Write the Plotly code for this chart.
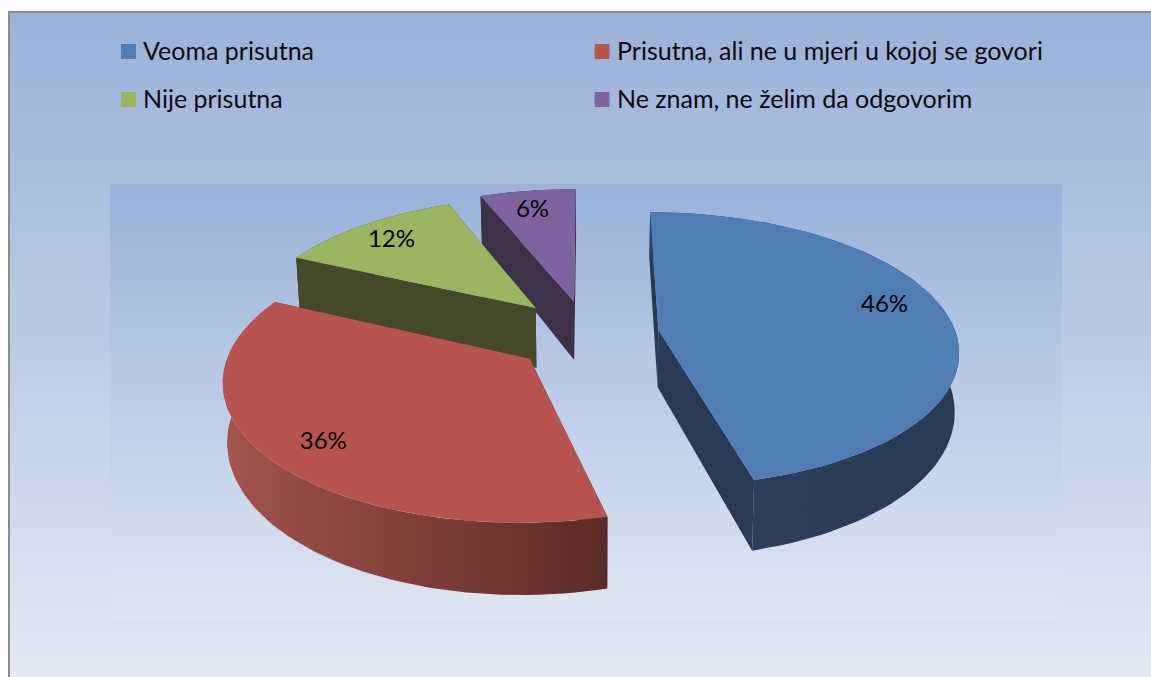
import numpy as np
import plotly.graph_objects as go

# ---- data ----
categories = ["Veoma prisutna", "Prisutna, ali ne u mjeri u kojoj se govori",
              "Nije prisutna", "Ne znam, ne želim da odgovorim"]
shares = [46, 36, 12, 6]

# ---- style ----
top_colors = ["#4f7db4", "#b85450", "#9bb660", "#7f63a0"]
face_colors = ["#2a3a54", "#5a2b26", "#45492c", "#3e3148"]
wall_scale = [
    [[0, "#2d4060"], [1, "#2a3a54"]],
    [[0, "#a5534d"], [0.5, "#7f3f39"], [1, "#5a2b26"]],
    [[0, "#45492c"], [1, "#45492c"]],
    [[0, "#3e3148"], [1, "#3e3148"]],
]
# exploded slice apex position on the pie plane, radius units
apex = [(0.228, 0.0), (-0.195, -0.205), (-0.185, 0.165), (-0.055, 0.216)]
radius = [0.988, 0.98, 0.965, 1.0]
depth = [57.0, 55.0, 62.0, 61.0]
label_shift = [-6, -2.5, -1, -1]
label_r = [0.8, 0.81, 0.78, 0.8]
CX, CY, AX, AY, K = 590.0, 330.0, 300.0, 135.7, 0.14
SQUEEZE = 0.012
FONT = "Lato"
FS_LEG, FS_LAB = 25, 24


def proj(X, Y, low=0.0):
    w = 1 + K * Y
    sx = CX + AX * X / w
    sy = CY - AY * Y / w
    if low:
        sy = sy + low / w ** 1.5
        sx = CX + (sx - CX) * (1 - SQUEEZE)
    return sx, sy


fig = go.Figure()


def poly(x, y, color=None, grad=None):
    kw = dict(x=list(x), y=list(y), mode="lines", fill="toself", line=dict(width=0),
              hoverinfo="skip", showlegend=False)
    if grad:
        kw["fillgradient"] = grad
    else:
        kw["fillcolor"] = color
    fig.add_trace(go.Scatter(**kw))


# backgrounds
poly([9, 1151, 1151, 9], [12, 12, 677, 677],
     grad=dict(type="vertical", start=12, stop=677,
               colorscale=[[0, "#9bb1da"], [0.5, "#bccce6"], [1, "#e4e9f4"]]))
poly([110, 1062, 1062, 110], [184, 184, 620, 620],
     grad=dict(type="vertical", start=184, stop=620,
               colorscale=[[0, "#9bb1da"], [0.5, "#bccde7"], [1, "#e0e6f3"]]))
fig.add_trace(go.Scatter(x=[9, 9, 1151], y=[677, 12, 12], mode="lines",
                         line=dict(color="#8c8c8c", width=2), hoverinfo="skip", showlegend=False))

# slice angles, clockwise from 12 o'clock
edges = np.cumsum([0] + shares) / sum(shares) * 360.0
for i in [3, 2, 1, 0]:
    a0, a1 = edges[i], edges[i + 1]
    ox, oy = apex[i]
    R = radius[i]
    D = depth[i]
    t = np.radians(np.linspace(a0, a1, 90))
    X = ox + R * np.sin(t)
    Y = oy + R * np.cos(t)
    ax_t, ay_t = proj(ox, oy)
    ax_b, ay_b = proj(ox, oy, D)
    # two radial faces
    for th in (a0, a1):
        r = np.radians(th)
        px, py = ox + R * np.sin(r), oy + R * np.cos(r)
        tx, ty = proj(px, py)
        bx, by = proj(px, py, D)
        poly([ax_t, tx, bx, ax_b], [ay_t, ty, by, ay_b], color=face_colors[i])
    # outer wall
    sx, sy = proj(X, Y)
    bx, by = proj(X, Y, D)
    poly(np.r_[sx, bx[::-1]], np.r_[sy, by[::-1]],
         grad=dict(type="horizontal", colorscale=wall_scale[i]))
    # top
    poly(np.r_[ax_t, sx], np.r_[ay_t, sy], color=top_colors[i])

# percent labels
lx, ly, lt = [], [], []
for i, v in enumerate(shares):
    th = np.radians((edges[i] + edges[i + 1]) / 2 + label_shift[i])
    x, y = proj(apex[i][0] + label_r[i] * np.sin(th), apex[i][1] + label_r[i] * np.cos(th))
    lx.append(x); ly.append(y); lt.append(f"{v}%")
fig.add_trace(go.Scatter(x=lx, y=ly, text=lt, mode="text", textposition="middle center",
                         textfont=dict(family=FONT, size=FS_LAB, color="#000000"),
                         hoverinfo="skip", showlegend=False))

# legend
leg_sw_x = [128.5, 602, 128.5, 602]
leg_tx_x = [143, 617, 143, 617]
leg_y = [51.5, 51.5, 99.5, 99.5]
fig.add_trace(go.Scatter(x=leg_sw_x, y=leg_y, mode="markers", hoverinfo="skip", showlegend=False,
                         marker=dict(symbol="square", size=15, color=top_colors, line=dict(width=0))))
fig.add_trace(go.Scatter(x=leg_tx_x, y=[v + 2 for v in leg_y], mode="text", text=categories,
                         textposition="middle right",
                         textfont=dict(family=FONT, size=FS_LEG, color="#0a0a0a"),
                         hoverinfo="skip", showlegend=False))

fig.update_layout(width=1151, height=677, margin=dict(l=0, r=0, t=0, b=0),
                  paper_bgcolor="white", plot_bgcolor="white", showlegend=False,
                  xaxis=dict(range=[0, 1151], visible=False, fixedrange=True),
                  yaxis=dict(range=[677, 0], visible=False, fixedrange=True))
fig.write_html("out.html", config=dict(displayModeBar=False),
               default_width="1151px", default_height="677px",
               post_script="document.body.style.margin='0';document.documentElement.style.overflow='hidden';")
